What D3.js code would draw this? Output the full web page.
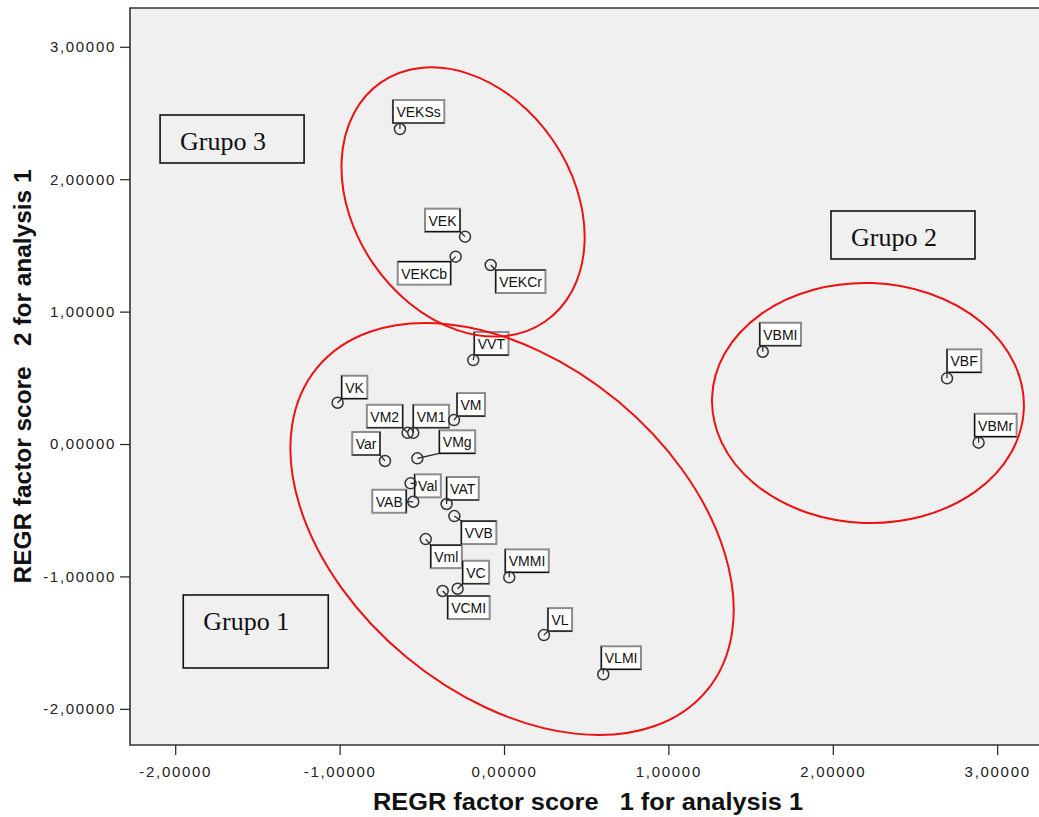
<!DOCTYPE html>
<html>
<head>
<meta charset="utf-8">
<script src="https://cdn.jsdelivr.net/npm/d3@7"></script>
<style>
  body { margin: 0; background: #fff; }
  svg { display: block; }
</style>
</head>
<body>
<svg id="chart" width="1039" height="817"></svg>
<script>
// Variables and their regression factor scores
const names = ["VEKSs", "VEK", "VEKCb", "VEKCr", "VVT", "VK", "VM2", "VM1", "VM", "Var", "VMg", "Val",
               "VAB", "VAT", "VVB", "Vml", "VMMI", "VC", "VCMI", "VL", "VLMI", "VBMI", "VBF", "VBMr"];
const score1 = [-0.633, -0.237, -0.294, -0.081, -0.187, -1.012, -0.586, -0.552, -0.304, -0.724, -0.527, -0.568,
                -0.552, -0.349, -0.302, -0.476, 0.032, -0.282, -0.373, 0.243, 0.604, 1.574, 2.695, 2.887];
const score2 = [2.379, 1.566, 1.415, 1.352, 0.634, 0.312, 0.085, 0.085, 0.181, -0.128, -0.108, -0.297,
                -0.436, -0.453, -0.544, -0.718, -1.007, -1.093, -1.110, -1.443, -1.739, 0.697, 0.496, 0.010];

const xTickValues = [-2, -1, 0, 1, 2, 3];
const yTickValues = [-2, -1, 0, 1, 2, 3];

const xTitle = "REGR factor score   1 for analysis 1";
const yTitle = "REGR factor score   2 for analysis 1";

// Cluster annotations: name, centre in score units
const groupNames = ["Grupo 1", "Grupo 2", "Grupo 3"];
const groupCentre1 = [0.049, 2.214, -0.249];
const groupCentre2 = [-0.642, 0.310, 1.828];
// Caption boxes: top-left corner in score units
const groupBox1 = [-1.951, 1.989, -2.092];
const groupBox2 = [-1.140, 1.760, 2.485];

// ---- layout (pixels) ----
const W = 1039, H = 817;
const plot = { left: 130, right: 1046, top: 8, bottom: 745 };

// ellipse shape per group: [rx, ry, rotation deg]
const ellipseShape = [[253, 166, 39.7], [156, 120, 2], [145, 109, 55.7]];
// caption box size per group: [w, h]
const captionSize = [[145, 73], [144, 48], [144, 48]];

// label box placement relative to its point: [dx, dy, side]
// side "L": box left edge at px+dx; "R": box right edge at px+dx; dy = box top - py
const labelPlace = [[-7, -29, "L"], [-5, -28, "R"], [-5, 5, "R"], [5, 5, "L"], [1, -28, "L"], [4, -27, "L"],
                    [-5, -28, "R"], [0, -28, "L"], [3, -27, "L"], [-5, -29, "R"], [22, -28, "L"], [4, -9, "L"],
                    [-7, -12, "R"], [0, -27, "L"], [7, 5, "L"], [5, 6, "L"], [-4, -28, "L"], [5, -28, "L"],
                    [5, 5, "L"], [4, -27, "L"], [-2, -28, "L"], [-3, -29, "L"], [0, -29, "L"], [-4, -29, "L"]];

const x = d3.scaleLinear().domain([-2.275, 3.297]).range([plot.left, plot.right]);
const y = d3.scaleLinear().domain([-2.273, 3.293]).range([plot.bottom, plot.top]);

const fmt = d3.formatLocale({ decimal: ",", thousands: ".", grouping: [3], currency: ["", ""], minus: "-" }).format(".5f");

const svg = d3.select("#chart");
svg.append("rect").attr("width", W).attr("height", H).attr("fill", "#fff");

svg.append("defs").append("clipPath").attr("id", "plotClip")
  .append("rect").attr("x", plot.left).attr("y", plot.top)
  .attr("width", plot.right - plot.left).attr("height", plot.bottom - plot.top);

// plot background
svg.append("rect")
  .attr("x", plot.left).attr("y", plot.top)
  .attr("width", plot.right - plot.left).attr("height", plot.bottom - plot.top)
  .attr("fill", "#f0f0f0");

// axes
const tickFont = g => g.selectAll("text")
  .attr("font-family", "'Liberation Sans', Arial, sans-serif")
  .attr("font-size", 15)
  .attr("letter-spacing", "1.7px")
  .attr("fill", "#222");

const yAxis = svg.append("g").attr("transform", `translate(${plot.left},0)`)
  .call(d3.axisLeft(y).tickValues(yTickValues).tickFormat(fmt).tickSize(10).tickPadding(4));
yAxis.select(".domain").remove();
yAxis.selectAll("line").attr("stroke", "#222").attr("stroke-width", 1.2);
yAxis.call(tickFont);

const xAxis = svg.append("g").attr("transform", `translate(0,${plot.bottom})`)
  .call(d3.axisBottom(x).tickValues(xTickValues).tickFormat(fmt).tickSize(10).tickPadding(11));
xAxis.select(".domain").remove();
xAxis.selectAll("line").attr("stroke", "#222").attr("stroke-width", 1.2);
xAxis.call(tickFont);

// frame
svg.append("path")
  .attr("d", `M${plot.right},${plot.top}H${plot.left}V${plot.bottom}H${plot.right}`)
  .attr("fill", "none").attr("stroke", "#333").attr("stroke-width", 1.6);

// axis titles
svg.append("text")
  .attr("x", (plot.left + plot.right) / 2).attr("y", 810)
  .attr("text-anchor", "middle")
  .attr("font-family", "'Liberation Sans', Arial, sans-serif")
  .attr("font-weight", "bold").attr("font-size", 23)
  .attr("textLength", 430).attr("lengthAdjust", "spacingAndGlyphs")
  .style("white-space", "pre")
  .attr("fill", "#111")
  .text(xTitle);

svg.append("text")
  .attr("transform", `translate(31,${(plot.top + plot.bottom) / 2}) rotate(-90)`)
  .attr("text-anchor", "middle")
  .attr("font-family", "'Liberation Sans', Arial, sans-serif")
  .attr("font-weight", "bold").attr("font-size", 23)
  .attr("textLength", 414).attr("lengthAdjust", "spacingAndGlyphs")
  .style("white-space", "pre")
  .attr("fill", "#111")
  .text(yTitle);

// points and their labels
const points = names.map((n, i) => ({ name: n, s1: score1[i], s2: score2[i], place: labelPlace[i] }));
const layer = svg.append("g").attr("clip-path", "url(#plotClip)");

const lab = layer.selectAll("g.lab").data(points).join("g").attr("class", "lab");

lab.each(function (d) {
  const g = d3.select(this);
  const px = x(d.s1), py = y(d.s2);
  const [dx, dy, side] = d.place;
  const t = g.append("text")
    .attr("font-family", "'Liberation Sans', Arial, sans-serif")
    .attr("font-size", 14).attr("fill", "#111")
    .text(d.name);
  const tw = t.node().getComputedTextLength();
  const bw = tw + 7, bh = 23;
  const bx = side === "L" ? px + dx : px + dx - bw;
  const by = py + dy;
  t.attr("x", bx + 3.5).attr("y", by + 17);

  // nearest point of the box to the marker
  const cx = Math.max(bx, Math.min(px, bx + bw));
  const cy = Math.max(by, Math.min(py, by + bh));

  g.insert("rect", "text")
    .attr("x", bx).attr("y", by).attr("width", bw).attr("height", bh)
    .attr("fill", "#fff").attr("stroke", "#8c8c8c").attr("stroke-width", 2);

  // darker edges on the side facing the marker
  const vx = side === "L" ? bx : bx + bw;
  const inside = py > by && py < by + bh;
  const hy = py <= by ? by : by + bh;
  const edge = inside
    ? `M${vx},${by}V${by + bh}`
    : `M${vx},${py <= by ? by + bh : by}V${hy}H${side === "L" ? bx + bw : bx}`;
  g.append("path").attr("d", edge).attr("fill", "none").attr("stroke", "#111").attr("stroke-width", 1.2);

  g.append("line")
    .attr("x1", px).attr("y1", py).attr("x2", cx).attr("y2", cy)
    .attr("stroke", "#222").attr("stroke-width", 1.2);

  g.append("circle")
    .attr("cx", px).attr("cy", py).attr("r", 5.5)
    .attr("fill", "none").attr("stroke", "#333").attr("stroke-width", 1.5);
});

// cluster ellipses and captions
const groups = groupNames.map((n, i) => ({
  name: n, c1: groupCentre1[i], c2: groupCentre2[i], b1: groupBox1[i], b2: groupBox2[i],
  shape: ellipseShape[i], size: captionSize[i]
}));

layer.selectAll("ellipse.grp").data(groups).join("ellipse").attr("class", "grp")
  .attr("cx", d => x(d.c1)).attr("cy", d => y(d.c2))
  .attr("rx", d => d.shape[0]).attr("ry", d => d.shape[1])
  .attr("transform", d => `rotate(${d.shape[2]},${x(d.c1)},${y(d.c2)})`)
  .attr("fill", "none").attr("stroke", "#ee1111").attr("stroke-width", 2);

const cap = layer.selectAll("g.cap").data(groups).join("g").attr("class", "cap")
  .attr("transform", d => `translate(${x(d.b1)},${y(d.b2)})`);
cap.append("rect")
  .attr("width", d => d.size[0]).attr("height", d => d.size[1])
  .attr("fill", "none").attr("stroke", "#111").attr("stroke-width", 1.6);
cap.append("text")
  .attr("x", 20).attr("y", 35)
  .attr("font-family", "'Liberation Serif', 'Times New Roman', serif")
  .attr("font-size", 26).attr("fill", "#111")
  .text(d => d.name);
</script>
</body>
</html>
